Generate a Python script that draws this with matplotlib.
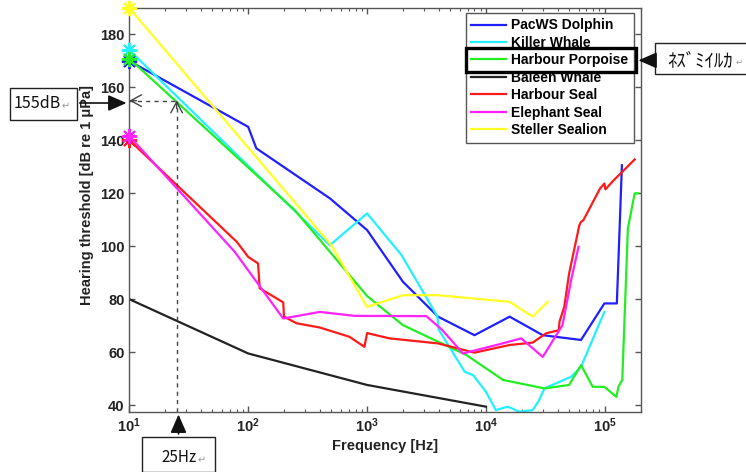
import numpy as np
import matplotlib.pyplot as plt
from matplotlib.patches import Rectangle, FancyArrowPatch

plt.rcParams['font.family'] = ['Liberation Sans', 'DejaVu Sans']
plt.rcParams['mathtext.fontset'] = 'custom'
plt.rcParams['mathtext.rm'] = 'Liberation Sans'
plt.rcParams['mathtext.bf'] = 'Liberation Sans:bold'

# audiograms: frequency [Hz] and hearing threshold [dB re 1 uPa]
dolphin_f = [10, 100, 117, 486, 1000, 2000, 3950, 8000, 15800, 30000, 63000, 99000, 126000, 139000]
dolphin_db = [170, 145.1, 137.0, 118.1, 106.1, 86.6, 73.4, 66.4, 73.4, 66.4, 64.6, 78.4, 78.4, 130.6]

killer_f = [10, 486, 1000, 1945, 3900, 4000, 6620, 7800, 10000, 12100, 15300, 19000, 24700, 28000,
            31000, 52000, 63000, 99000]
killer_db = [174.1, 100.4, 112.4, 96.7, 73.5, 68.5, 52.6, 51.3, 45.0, 38.1, 39.4, 37.5, 38.1, 41.9,
             46.3, 50.7, 54.5, 75.2]

porpoise_f = [10, 247, 1000, 2000, 6850, 13900, 31000, 50000, 63000, 79000, 99000, 125000, 130000,
              140000, 156000, 178000, 190000]
porpoise_db = [170.9, 113.6, 81.2, 70.2, 58.9, 49.5, 46.3, 47.6, 55.1, 46.9, 46.9, 43.1, 46.9,
               49.5, 106.7, 120.0, 120.0]

baleen_f = [10, 100, 1000, 10000]
baleen_db = [80.0, 59.5, 47.6, 39.4]

hseal_f = [10, 80, 100, 121, 125, 197, 200, 255, 400, 710, 950, 1000, 1540, 3950, 8000, 15800,
           24700, 32000, 41000, 41500, 45500, 50000, 61000, 63000, 66000, 91000, 99000, 101000,
           119000, 140000, 178000]
hseal_db = [140.1, 101.7, 96.0, 93.5, 84.1, 78.8, 73.4, 70.9, 69.3, 65.8, 62.0, 67.2, 65.2, 63.3,
            59.8, 62.7, 63.6, 67.1, 68.3, 71.5, 77.1, 89.7, 108.0, 109.2, 109.9, 121.8, 123.7,
            121.5, 125.0, 128.1, 132.8]

eseal_f = [10, 77, 197, 400, 785, 3150, 4300, 6400, 13000, 19800, 30000, 44000, 52000, 60000]
eseal_db = [141.6, 97.9, 72.7, 75.2, 73.7, 73.6, 68.3, 59.5, 63.0, 65.2, 58.2, 70.2, 87.2, 99.8]

sealion_f = [10, 500, 1000, 2000, 3950, 15800, 24700, 33000]
sealion_db = [190, 100.4, 77.1, 81.5, 81.5, 79.0, 73.4, 79.0]

names = ['PacWS Dolphin', 'Killer Whale', 'Harbour Porpoise', 'Baleen Whale',
         'Harbour Seal', 'Elephant Seal', 'Steller Sealion']
colors = ['#1f1fff', '#22f0ff', '#22ee22', '#222222', '#ff1a1a', '#ff22ff', '#ffff22']
series = [(dolphin_f, dolphin_db), (killer_f, killer_db), (porpoise_f, porpoise_db),
          (baleen_f, baleen_db), (hseal_f, hseal_db), (eseal_f, eseal_db),
          (sealion_f, sealion_db)]
starred = [True, True, True, False, True, True, True]

xtick_vals = [10, 100, 1000, 10000, 100000]
xtick_labels = [r'$\mathbf{10^{1}}$', r'$\mathbf{10^{2}}$', r'$\mathbf{10^{3}}$',
                r'$\mathbf{10^{4}}$', r'$\mathbf{10^{5}}$']
ytick_vals = [40, 60, 80, 100, 120, 140, 160, 180]

mark_f = 25
mark_db = 155

W, H = 746, 472
def fp(x, y):
    return (x / W, 1 - y / H)

fig = plt.figure(figsize=(W / 100, H / 100), dpi=100)
ax = fig.add_axes([129.3 / W, 1 - 411.7 / H, (640.7 - 129.3) / W, (411.7 - 8) / H])

for (f, db), name, c in zip(series, names, colors):
    ax.plot(f, db, color=c, lw=1.6, label=name)
for (f, db), c, s in zip(series, colors, starred):
    if s:
        ax.plot(f[0], db[0], marker=(8, 2, 0), ms=11, mew=1.4, color=c, clip_on=False, zorder=5)

ax.set_xscale('log')
ax.set_xlim(10, 2e5)
ax.set_ylim(37.5, 190)
ax.set_xticks(xtick_vals)
ax.set_xticklabels(xtick_labels)
ax.xaxis.set_minor_formatter(plt.NullFormatter())
ax.set_yticks(ytick_vals)
for lab in ax.get_yticklabels():
    lab.set_fontweight('bold')

for sp in ax.spines.values():
    sp.set_color('#555555')
    sp.set_linewidth(1.0)
ax.tick_params(which='both', direction='in', top=True, right=True, color='#555555',
               labelsize=10.5, labelcolor='#222222')
ax.tick_params(which='major', length=4.5, width=1)
ax.tick_params(which='minor', length=2.5, width=0.8)

ax.set_xlabel('Frequency [Hz]', fontsize=10.5, fontweight='bold', color='#222222', labelpad=3)
ax.set_ylabel('Hearing threshold [dB re 1 \u03bcPa]', fontsize=10.5, fontweight='bold',
              color='#222222')
ax.yaxis.set_label_coords(-0.069, 0.536)

# dashed reading lines
ax.plot([10, mark_f], [mark_db, mark_db], ls=(0, (3, 3)), color='#444444', lw=1, zorder=6)
ax.plot([mark_f, mark_f], [37.5, mark_db], ls=(0, (3, 3)), color='#444444', lw=1, zorder=6)
head = dict(arrowstyle='->,head_length=0.55,head_width=0.3', lw=1, color='#444444',
            shrinkA=0, shrinkB=0, mutation_scale=14)
ax.annotate('', xy=(10, mark_db), xytext=(11.5, mark_db), arrowprops=head, zorder=6)
ax.annotate('', xy=(mark_f, mark_db), xytext=(mark_f, mark_db - 3), arrowprops=head, zorder=6)

leg = ax.legend(loc='upper left', bbox_to_anchor=(0.658, 0.988), borderaxespad=0,
                prop={'weight': 'bold', 'size': 10}, fancybox=False, edgecolor='#555555',
                framealpha=1, labelspacing=0.25, handlelength=2.5, handletextpad=0.35,
                borderpad=0.4)
leg.get_frame().set_linewidth(1.0)

cjk = ['Noto Sans CJK JP', 'DejaVu Sans']

# 155dB box on the left
fig.add_artist(Rectangle(fp(10, 120), 67 / W, 32 / H, transform=fig.transFigure,
                         fill=False, ec='#222222', lw=1))
fig.text(*fp(14, 104), '155dB', family=cjk, fontsize=11.5, va='center', ha='left', color='#111111')
fig.text(*fp(62, 106), '\u21b5', family=cjk, fontsize=7, va='center', ha='left', color='#999999')
fig.add_artist(FancyArrowPatch(fp(77, 103), fp(129.3, 103), transform=fig.transFigure,
                               arrowstyle='-|>,head_length=0.8,head_width=0.35',
                               mutation_scale=14, color='#111111', lw=1.2))

# 25Hz box at the bottom
fig.add_artist(Rectangle(fp(141.7, 471.5), 73.3 / W, 35 / H, transform=fig.transFigure,
                         fill=False, ec='#222222', lw=1))
fig.text(*fp(161, 457), '25Hz', family=cjk, fontsize=11, va='center', ha='left', color='#111111')
fig.text(*fp(198, 460), '\u21b5', family=cjk, fontsize=7, va='center', ha='left', color='#999999')
fig.add_artist(FancyArrowPatch(fp(178.5, 436.7), fp(178.5, 411.7), transform=fig.transFigure,
                               arrowstyle='-|>,head_length=0.8,head_width=0.35',
                               mutation_scale=14, color='#111111', lw=1.2))

# highlight Harbour Porpoise entry
fig.canvas.draw()
lb = leg.get_window_extent()
tb = leg.get_texts()[2].get_window_extent()
cy = (tb.y0 + tb.y1) / 2
fig.add_artist(Rectangle((lb.x0 / W, (cy - 12) / H), (lb.width + 2) / W, 24 / H,
                         transform=fig.transFigure, fill=False, ec='black', lw=2.4, zorder=10))
fig.add_artist(Rectangle(fp(655, 74), 92 / W, 31 / H, transform=fig.transFigure,
                         fill=False, ec='#222222', lw=1))
fig.text(667 / W, cy / H, '\uff88\uff7d\uff9e\uff90\uff72\uff99\uff76', family=cjk, fontsize=13.5,
         va='center', ha='left', color='#111111')
fig.text(736 / W, (cy - 2) / H, '\u21b5', family=cjk, fontsize=6, va='center', ha='left',
         color='#999999')
fig.add_artist(FancyArrowPatch((655 / W, cy / H), ((lb.x1 + 2) / W, cy / H),
                               transform=fig.transFigure,
                               arrowstyle='-|>,head_length=0.8,head_width=0.35',
                               mutation_scale=14, color='#111111', lw=1.2))

fig.savefig('out.png', dpi=100)
